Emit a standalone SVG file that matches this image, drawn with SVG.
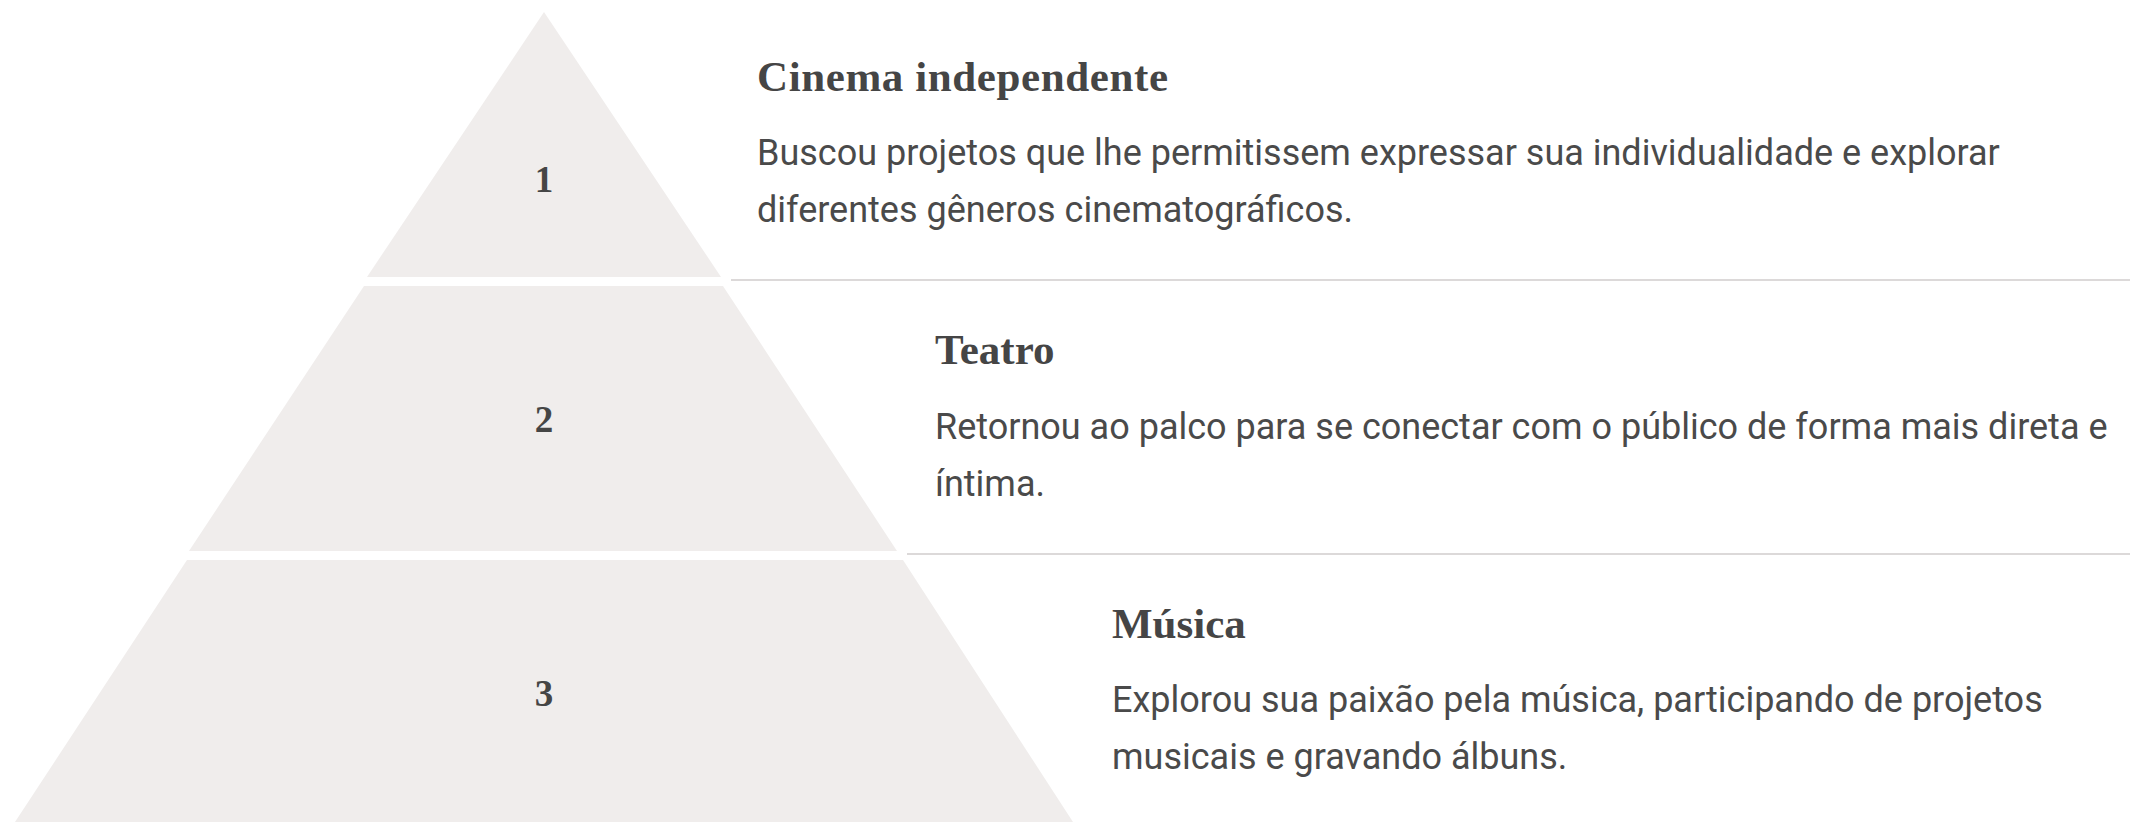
<svg xmlns="http://www.w3.org/2000/svg" width="2130" height="822" viewBox="0 0 2130 822">
  <style>
    .tier { fill: #f0edec; }
    .num { font-family: "Liberation Serif", "DejaVu Serif", serif; font-weight: bold; font-size: 37px; fill: #454545; text-anchor: middle; }
    .head { font-family: "Liberation Serif", "DejaVu Serif", serif; font-weight: bold; font-size: 43px; fill: #454545; }
    .body { font-family: Roboto, "Liberation Sans", sans-serif; font-size: 36px; fill: #4a4a4a; }
    .sep { stroke: #dcd9d9; stroke-width: 2; fill: none; }
  </style>
  <rect width="2130" height="822" fill="#ffffff"/>
  <g id="connectors">
    <line class="sep" x1="731" y1="280" x2="2130" y2="280"/>
    <line class="sep" x1="907" y1="554" x2="2130" y2="554"/>
  </g>
  <g id="tier1">
    <polygon class="tier" points="544,12 721,277 367,277"/>
    <text class="num" x="544" y="192">1</text>
    <text class="head" x="757" y="91" textLength="411" lengthAdjust="spacing">Cinema independente</text>
    <text class="body" x="757" y="165">Buscou projetos que lhe permitissem expressar sua individualidade e explorar</text>
    <text class="body" x="757" y="222">diferentes gêneros cinematográficos.</text>
  </g>
  <g id="tier2">
    <polygon class="tier" points="364,286 723,286 897,551 189,551"/>
    <text class="num" x="544" y="432">2</text>
    <text class="head" x="935" y="364">Teatro</text>
    <text class="body" x="935" y="439">Retornou ao palco para se conectar com o público de forma mais direta e</text>
    <text class="body" x="935" y="496">íntima.</text>
  </g>
  <g id="tier3">
    <polygon class="tier" points="187,560 903,560 1073,822 15,822"/>
    <text class="num" x="544" y="706">3</text>
    <text class="head" x="1112" y="638">Música</text>
    <text class="body" x="1112" y="712">Explorou sua paixão pela música, participando de projetos</text>
    <text class="body" x="1112" y="769">musicais e gravando álbuns.</text>
  </g>
</svg>
